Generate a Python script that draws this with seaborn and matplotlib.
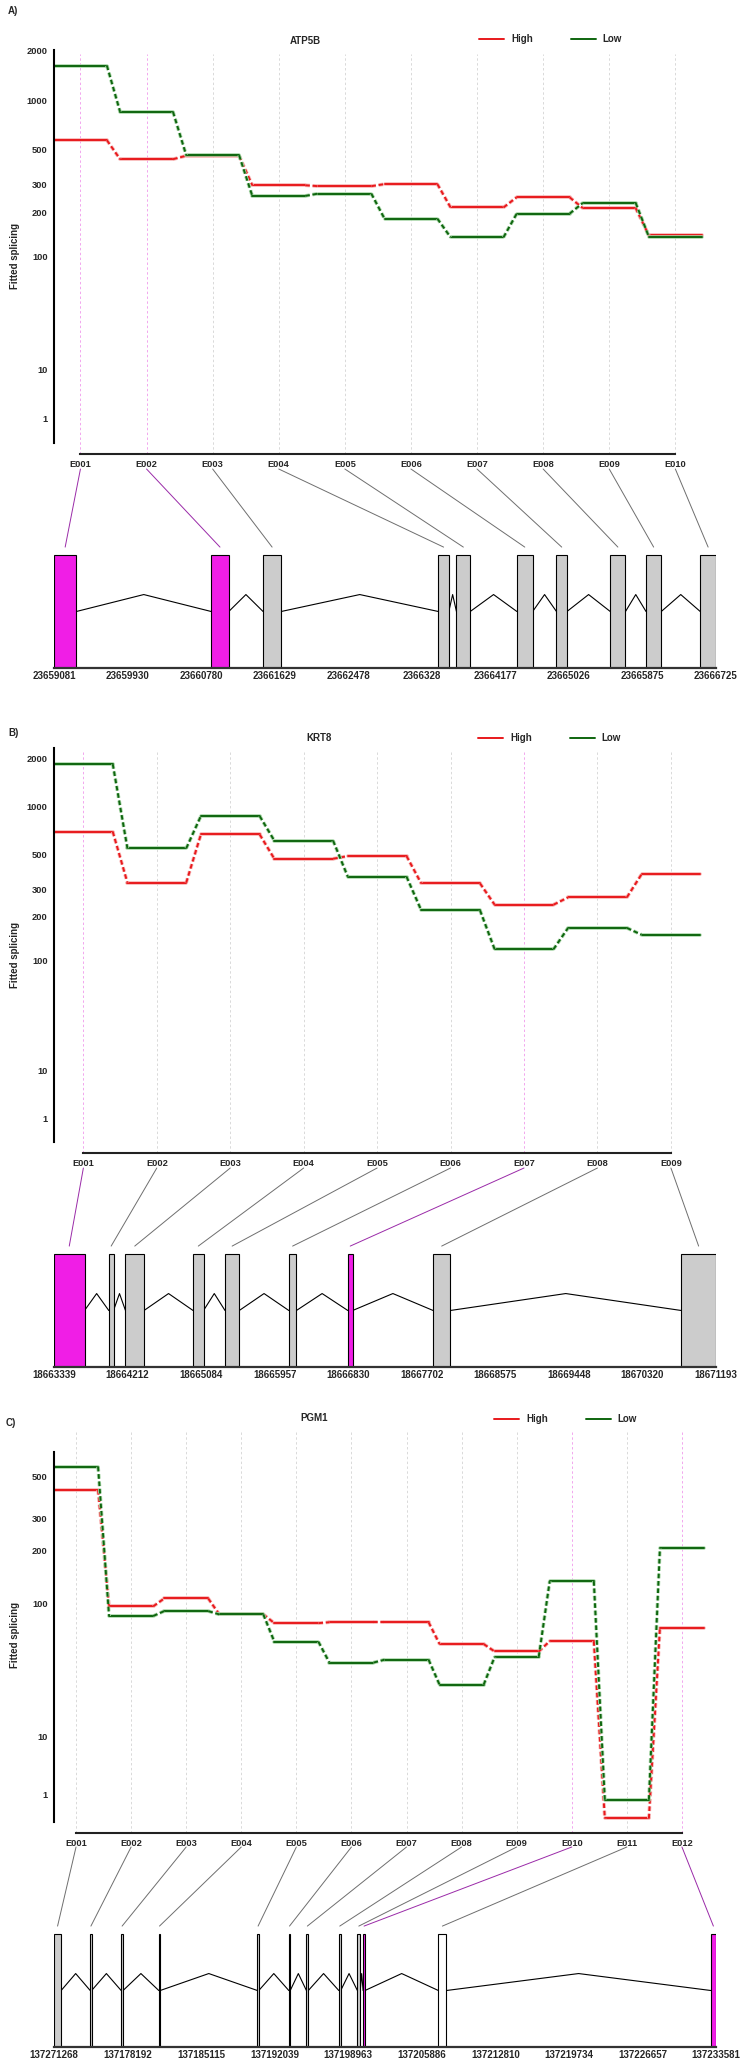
import numpy as np
import pandas as pd
import matplotlib
matplotlib.use("Agg")
import matplotlib.pyplot as plt
import matplotlib.patheffects as pe
import seaborn as sns
from matplotlib.colors import to_hex
from matplotlib.lines import Line2D
from matplotlib.patches import ConnectionPatch
from matplotlib.transforms import blended_transform_factory

# ---------------- data ----------------
# ATP5B
atp5b_exons = ['E001', 'E002', 'E003', 'E004', 'E005', 'E006', 'E007', 'E008', 'E009', 'E010']
atp5b_high = [568, 433, 455, 297, 293, 302, 214, 249, 212, 140]
atp5b_low = [1622, 849, 459, 254, 263, 181, 136, 195, 229, 137]
atp5b_start = [23659081, 23660896, 23661495, 23663519, 23663728, 23664426, 23664883, 23665504, 23665917, 23666543]
atp5b_end = [23659339, 23661099, 23661704, 23663640, 23663887, 23664608, 23665004, 23665680, 23666093, 23666725]
atp5b_flag = ['sig', 'sig', 'ns', 'ns', 'ns', 'ns', 'ns', 'ns', 'ns', 'ns']
atp5b_ticks = [23659081, 23659930, 23660780, 23661629, 23662478, 23663328, 23664177, 23665026, 23665875, 23666725]
atp5b_ticklabels = ['23659081', '23659930', '23660780', '23661629', '23662478', '2366328', '23664177', '23665026', '23665875', '23666725']

# KRT8
krt8_exons = ['E001', 'E002', 'E003', 'E004', 'E005', 'E006', 'E007', 'E008', 'E009']
krt8_high = [698, 331, 671, 471, 490, 328, 238, 266, 375]
krt8_low = [1838, 548, 875, 613, 362, 219, 119, 167, 150]
krt8_start = [18663339, 18663989, 18664187, 18664989, 18665368, 18666125, 18666825, 18667837, 18670781]
krt8_end = [18663701, 18664045, 18664407, 18665113, 18665537, 18666215, 18666882, 18668040, 18671193]
krt8_flag = ['sig', 'ns', 'ns', 'ns', 'ns', 'ns', 'sig', 'ns', 'ns']
krt8_ticks = [18663339, 18664212, 18665084, 18665957, 18666830, 18667702, 18668575, 18669448, 18670320, 18671193]
krt8_ticklabels = ['18663339', '18664212', '18665084', '18665957', '18666830', '18667702', '18668575', '18669448', '18670320', '18671193']

# PGM1
pgm1_exons = ['E001', 'E002', 'E003', 'E004', 'E005', 'E006', 'E007', 'E008', 'E009', 'E010', 'E011', 'E012']
pgm1_high = [426, 96, 107, 86, 76, 77, 77, 56, 50, 58.5, 0.02, 71]
pgm1_low = [565, 84, 90, 86, 58, 42, 44, 29, 46, 135, 0.64, 206]
pgm1_start = [137171268, 137174675, 137177589, 137181131, 137190410, 137193369, 137195028, 137198076,
              137199825, 137200363, 137207446, 137233089]
pgm1_end = [137171940, 137174810, 137177768, 137181265, 137190545, 137193504, 137195207, 137198256,
            137200094, 137200542, 137208208, 137233581]
pgm1_flag = ['ns', 'ns', 'ns', 'ns', 'ns', 'ns', 'ns', 'ns', 'ns', 'sig', 'na', 'sig']
pgm1_ticks = [137171268, 137178192, 137185115, 137192039, 137198963, 137205886, 137212810, 137219734, 137226657, 137233581]
pgm1_ticklabels = ['137271268', '137178192', '137185115', '137192039', '137198963', '137205886', '137212810', '137219734', '137226657', '137233581']

major_ab = [0, 1, 10, 100, 200, 300, 500, 1000, 2000]
major_c = [0, 1, 10, 100, 200, 300, 500]
minor_y = [2, 3, 4, 5, 6, 7, 8, 9, 20, 30, 40, 50, 60, 70, 80, 90, 400, 600, 700, 800, 900]

RED = '#e8191c'
GREEN = '#0e650e'
HALO = {to_hex(RED): '#f7b3b3', to_hex(GREEN): '#a9d6a9'}
BOX = {'sig': '#f01ee6', 'ns': '#cccccc', 'na': '#ffffff'}
GUIDE = {'sig': '#f2a6ee', 'ns': '#d9d9d9', 'na': '#d9d9d9'}
LINK = {'sig': '#9a2aa8', 'ns': '#6e6e6e', 'na': '#6e6e6e'}

W, H = 744, 2064


def fwd(v):
    v = np.asarray(v, dtype=float)
    return np.sign(v) * np.arcsinh(np.sqrt(np.abs(v) / 36.0))


def inv(t):
    t = np.asarray(t, dtype=float)
    return np.sign(t) * 36.0 * np.sinh(t) ** 2


def draw_panel(fig, name, exons, high, low, starts, ends, flags, ticks, ticklabels, major, lay):
    n = len(exons)
    pos = np.arange(1, n + 1)

    # --- fitted splicing plot ---
    top, bot = lay['main']
    ax = fig.add_axes([54 / W, 1 - bot / H, 661 / W, (bot - top) / H])
    ax.set_yscale('function', functions=(fwd, inv))
    ax.set_xlim(0.6, n + 0.6)
    ax.set_ylim(float(inv(lay['fbot'])), float(inv(lay['ftop'])))

    for p, fl in zip(pos, flags):
        ax.axvline(p, ymin=0, ymax=0.99, color=GUIDE[fl], lw=0.7, ls=(0, (2.5, 2.5)), zorder=0)

    rows = []
    for cond, vals in (('High', high), ('Low', low)):
        for k in range(n):
            rows.append(dict(x=pos[k] - 0.4, y=vals[k], cond=cond, kind='exon', piece=f'{cond}s{k}'))
            rows.append(dict(x=pos[k] + 0.4, y=vals[k], cond=cond, kind='exon', piece=f'{cond}s{k}'))
            if k < n - 1:
                rows.append(dict(x=pos[k] + 0.4, y=vals[k], cond=cond, kind='link', piece=f'{cond}l{k}'))
                rows.append(dict(x=pos[k + 1] - 0.4, y=vals[k + 1], cond=cond, kind='link', piece=f'{cond}l{k}'))
    df = pd.DataFrame(rows)
    sns.lineplot(data=df, x='x', y='y', hue='cond', hue_order=['High', 'Low'], style='kind',
                 style_order=['exon', 'link'], units='piece', estimator=None, sort=False,
                 palette={'High': RED, 'Low': GREEN}, dashes={'exon': '', 'link': (2.4, 1.4)},
                 legend=False, lw=1.4, ax=ax)
    for line in ax.lines:
        c = to_hex(line.get_color())
        if c in HALO:
            line.set_path_effects([pe.Stroke(linewidth=2.6, foreground=HALO[c]), pe.Normal()])

    ax.set_xlabel('')
    ax.set_ylabel('Fitted splicing', fontsize=7, fontweight='bold')
    ax.yaxis.set_label_coords(-0.051, 0.49)
    for s in ('top', 'right'):
        ax.spines[s].set_visible(False)
    ax.spines['left'].set_linewidth(1.5)
    ax.spines['left'].set_color('black')
    ax.spines['left'].set_bounds(0, float(inv(lay['ftop'])))
    ax.spines['bottom'].set_linewidth(1.5)
    ax.spines['bottom'].set_color('#222222')
    ax.spines['bottom'].set_bounds(1, n)

    ax.set_yticks(major, labels=[''] + [str(v) for v in major[1:]])
    ax.set_yticks(minor_y, minor=True)
    ax.set_xticks(pos, labels=exons)
    for lbl in ax.get_yticklabels() + ax.get_xticklabels():
        lbl.set_fontweight('bold')
    ax.tick_params(axis='y', which='major', direction='out', length=3, width=1, pad=1.5, labelsize=6.7)
    ax.tick_params(axis='y', which='minor', direction='out', length=1.8, width=0.8)
    ax.tick_params(axis='x', direction='out', length=2.5, width=1, pad=1.5, labelsize=6.7, color='#222222')

    # --- gene model ---
    gtop, gbot = lay['gene']
    gx = fig.add_axes([54 / W, 1 - gbot / H, 662 / W, (gbot - gtop) / H])
    gx.set_xlim(ticks[0], ticks[-1])
    gx.set_ylim(0, (gbot - gtop) / 113)
    widths = np.array(ends) - np.array(starts)
    gx.bar(starts, 1, width=widths, align='edge', color=[BOX[f] for f in flags],
           edgecolor='black', linewidth=0.8, zorder=2)
    for k in range(n - 1):
        mid = (ends[k] + starts[k + 1]) / 2
        gx.plot([ends[k], mid, starts[k + 1]], [0.5, 0.65, 0.5], color='black', lw=0.8, zorder=1)
    for s in ('top', 'right', 'left'):
        gx.spines[s].set_visible(False)
    gx.spines['bottom'].set_linewidth(1.6)
    gx.spines['bottom'].set_color('#333333')
    gx.set_yticks([])
    gx.set_xticks(ticks, labels=ticklabels)
    for lbl in gx.get_xticklabels():
        lbl.set_fontweight('bold')
    gx.tick_params(axis='x', length=0, pad=2, labelsize=7)

    trans = blended_transform_factory(ax.transData, gx.transAxes)
    for p, s, e, fl in zip(pos, starts, ends, flags):
        con = ConnectionPatch(xyA=(p, 1.0), coordsA=trans, xyB=((s + e) / 2, 1.07), coordsB=gx.transData,
                              color=LINK[fl], lw=0.7)
        fig.add_artist(con)

    # --- texts ---
    fig.text(lay['label'][0] / W, 1 - lay['label'][1] / H, lay['label'][2],
             ha='left', va='center', fontsize=7, fontweight='bold')
    fig.text(lay['title'][0] / W, 1 - lay['title'][1] / H, name,
             ha='center', va='center', fontsize=7, fontweight='bold')
    handles = [Line2D([], [], color=RED, lw=1.4), Line2D([], [], color=GREEN, lw=1.4)]
    fig.legend(handles, ['High', 'Low'], loc='center left',
               bbox_to_anchor=(lay['legend'][0] / W, 1 - lay['legend'][1] / H),
               ncol=2, frameon=False, handlelength=2.6, handletextpad=0.7, columnspacing=3.9,
               borderpad=0, borderaxespad=0, prop={'weight': 'bold', 'size': 7})


sns.set_style('white')
plt.rcParams['font.family'] = ['Liberation Sans', 'DejaVu Sans']

fig = plt.figure(figsize=(W / 100, H / 100), dpi=100)

draw_panel(fig, 'ATP5B', atp5b_exons, atp5b_high, atp5b_low, atp5b_start, atp5b_end, atp5b_flag,
           atp5b_ticks, atp5b_ticklabels, major_ab,
           dict(label=(8, 11, 'A)'), title=(305, 41), legend=(479, 39), main=(50, 454),
                ftop=2.710, fbot=-0.076, gene=(469, 668)))
draw_panel(fig, 'KRT8', krt8_exons, krt8_high, krt8_low, krt8_start, krt8_end, krt8_flag,
           krt8_ticks, krt8_ticklabels, major_ab,
           dict(label=(8, 733, 'B)'), title=(319, 738), legend=(478, 738), main=(748, 1153),
                ftop=2.778, fbot=-0.076, gene=(1168, 1367)))
draw_panel(fig, 'PGM1', pgm1_exons, pgm1_high, pgm1_low, pgm1_start, pgm1_end, pgm1_flag,
           pgm1_ticks, pgm1_ticklabels, major_c,
           dict(label=(6, 1423, 'C)'), title=(314, 1418), legend=(494, 1419), main=(1428, 1833),
                ftop=2.171, fbot=-0.062, gene=(1847, 2047)))

fig.savefig('out.png', dpi=100, facecolor='white')
